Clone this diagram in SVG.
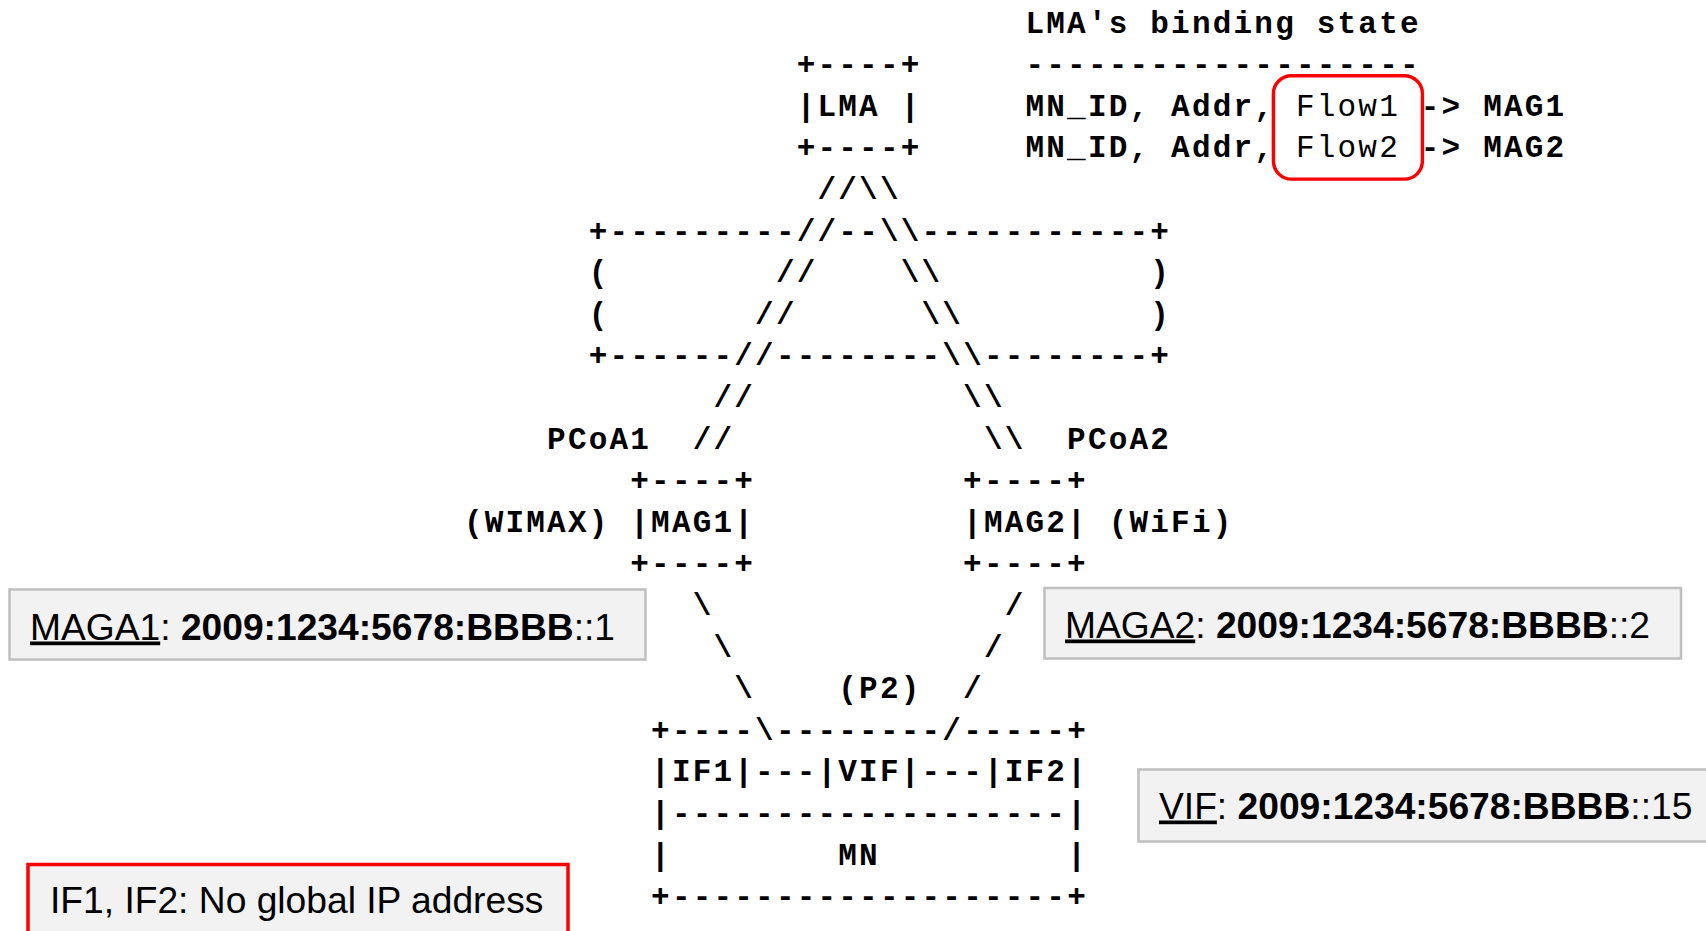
<svg xmlns="http://www.w3.org/2000/svg" width="1706" height="931" viewBox="0 0 1706 931" xml:space="preserve">
<style>
.a{font-family:"Liberation Mono","DejaVu Sans Mono",monospace;font-size:31px;font-weight:bold;letter-spacing:2.2px;white-space:pre;fill:#000}
.r{font-weight:normal}
.c{font-family:"Liberation Sans",Arial,sans-serif;font-size:37.2px;fill:#000;white-space:pre}
.b{font-weight:bold}
.u{text-decoration:underline}
.box{fill:#f2f2f2;stroke:#bfbfbf;stroke-width:2.5}
.hl{fill:none;stroke:#ff0000;stroke-width:3.4}
</style>
<rect width="1706" height="931" fill="#ffffff"/>

<g id="binding-state">
<text class="a" x="1025.5" y="32.5">LMA's binding state</text>
<text class="a" x="1025.5" y="74.1">-------------------</text>
<text class="a" x="1025.5" y="115.7">MN_ID, Addr, <tspan class="r">Flow1</tspan> -&gt; MAG1</text>
<text class="a" x="1025.5" y="157.3">MN_ID, Addr, <tspan class="r">Flow2</tspan> -&gt; MAG2</text>
<rect class="hl" x="1273.4" y="75.7" width="149" height="103.4" rx="18"/>
</g>

<g id="lma">
<text class="a" x="796.7" y="74.1">+----+</text>
<text class="a" x="796.7" y="115.7">|LMA |</text>
<text class="a" x="796.7" y="157.3">+----+</text>
</g>

<g id="cloud">
<text class="a" x="588.7" y="240.5">+---------//--\\-----------+</text>
<text class="a" x="588.7" y="282.1">(</text>
<text class="a" x="1150.3" y="282.1">)</text>
<text class="a" x="588.7" y="323.7">(</text>
<text class="a" x="1150.3" y="323.7">)</text>
<text class="a" x="588.7" y="365.3">+------//--------\\--------+</text>
</g>

<g id="connectors">
<text class="a" x="817.5" y="198.9">//\\</text>
<text class="a" x="775.9" y="282.1">//</text>
<text class="a" x="900.7" y="282.1">\\</text>
<text class="a" x="755.1" y="323.7">//</text>
<text class="a" x="921.5" y="323.7">\\</text>
<text class="a" x="713.5" y="406.9">//</text>
<text class="a" x="963.1" y="406.9">\\</text>
<text class="a" x="692.7" y="448.5">//</text>
<text class="a" x="983.9" y="448.5">\\</text>
<text class="a" x="692.7" y="614.9">\</text>
<text class="a" x="1004.7" y="614.9">/</text>
<text class="a" x="713.5" y="656.5">\</text>
<text class="a" x="983.9" y="656.5">/</text>
<text class="a" x="734.3" y="698.1">\</text>
<text class="a" x="963.1" y="698.1">/</text>
</g>

<g id="mag1">
<text class="a" x="547.1" y="448.5">PCoA1</text>
<text class="a" x="630.3" y="490.1">+----+</text>
<text class="a" x="463.9" y="531.7">(WIMAX) |MAG1|</text>
<text class="a" x="630.3" y="573.3">+----+</text>
</g>

<g id="mag2">
<text class="a" x="1067.1" y="448.5">PCoA2</text>
<text class="a" x="963.1" y="490.1">+----+</text>
<text class="a" x="963.1" y="531.7">|MAG2| (WiFi)</text>
<text class="a" x="963.1" y="573.3">+----+</text>
</g>

<g id="mn">
<text class="a" x="838.3" y="698.1">(P2)</text>
<text class="a" x="651.1" y="739.7">+----\--------/-----+</text>
<text class="a" x="651.1" y="781.3">|IF1|---|VIF|---|IF2|</text>
<text class="a" x="651.1" y="822.9">|-------------------|</text>
<text class="a" x="651.1" y="864.5">|        MN         |</text>
<text class="a" x="651.1" y="906.1">+-------------------+</text>
</g>

<g id="maga1-note">
<rect class="box" x="9.5" y="589.5" width="636" height="70"/>
<text class="c" x="30" y="639.5"><tspan class="u">MAGA1</tspan>: <tspan class="b">2009:1234:5678:BBBB</tspan>::1</text>
</g>

<g id="maga2-note">
<rect class="box" x="1044.5" y="588" width="636.5" height="70.5"/>
<text class="c" x="1065" y="637.5"><tspan class="u">MAGA2</tspan>: <tspan class="b">2009:1234:5678:BBBB</tspan>::2</text>
</g>

<g id="vif-note">
<rect class="box" x="1138.5" y="769.5" width="580" height="72"/>
<text class="c" x="1159" y="818.5"><tspan class="u">VIF</tspan>: <tspan class="b">2009:1234:5678:BBBB</tspan>::15</text>
</g>

<g id="if-note">
<rect x="28" y="864.5" width="540" height="80" fill="#f2f2f2" stroke="#ff0000" stroke-width="3.5"/>
<text class="c" x="50" y="912.5">IF1, IF2: No global IP address</text>
</g>
</svg>
